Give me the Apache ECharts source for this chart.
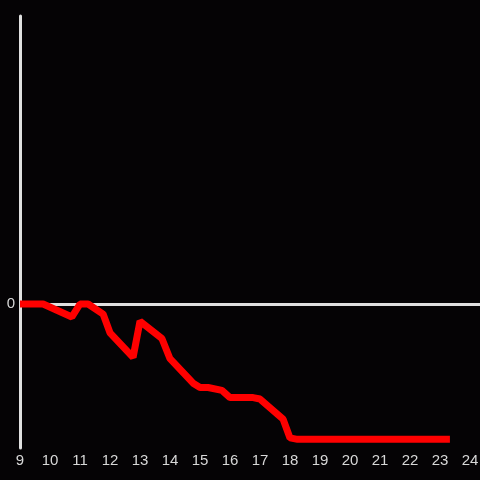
<!DOCTYPE html>
<html>
<head>
<meta charset="utf-8">
<script src="https://cdn.jsdelivr.net/npm/echarts@6/dist/echarts.min.js"></script>
<style>
  html, body { margin: 0; padding: 0; background: #050305; }
  #chart { width: 480px; height: 480px; }
</style>
</head>
<body>
<div id="chart"></div>
<script>
const times = [9, 9.77, 10.73, 11, 11.27, 11.77, 12, 12.77, 13, 13.73, 14, 14.77, 15, 15.27, 15.73, 16, 16.77, 17, 17.77, 18, 18.25, 23.33]
const values = [0, 0, -0.09, 0, 0, -0.07, -0.2, -0.37, -0.12, -0.24, -0.38, -0.55, -0.58, -0.58, -0.6, -0.65, -0.65, -0.66, -0.8, -0.93, -0.94, -0.94]
const xTicks = [9, 10, 11, 12, 13, 14, 15, 16, 17, 18, 19, 20, 21, 22, 23, 24]

const chart = echarts.init(document.getElementById('chart'))
chart.setOption({
  backgroundColor: '#050305',
  animation: false,
  grid: { left: 20, right: 0, top: 16, bottom: 32, containLabel: false, outerBoundsMode: 'none' },
  xAxis: {
    type: 'value',
    min: 9,
    max: 24.333,
    axisLine: { show: false },
    axisTick: { show: false },
    splitLine: { show: false },
    axisLabel: {
      color: '#d8d8d8',
      fontSize: 15,
      margin: 5,
      showMaxLabel: true,
      customValues: xTicks,
    },
  },
  yAxis: {
    type: 'value',
    min: -1,
    max: 2,
    axisLine: { show: true, lineStyle: { color: '#e0e0e0', width: 3 } },
    axisTick: { show: false },
    splitLine: { show: false },
    axisLabel: {
      color: '#d8d8d8',
      fontSize: 15,
      margin: 5,
      customValues: [0],
    },
  },
  series: [
    {
      type: 'line',
      data: times.map((t, i) => [t, values[i]]),
      symbol: 'none',
      lineStyle: { color: '#ff0000', width: 7 },
      markLine: {
        silent: true,
        symbol: 'none',
        label: { show: false },
        lineStyle: { color: '#e0e0e0', width: 3, type: 'solid' },
        data: [{ yAxis: 0 }],
        z: 1,
      },
      z: 3,
    },
  ],
})
</script>
</body>
</html>
